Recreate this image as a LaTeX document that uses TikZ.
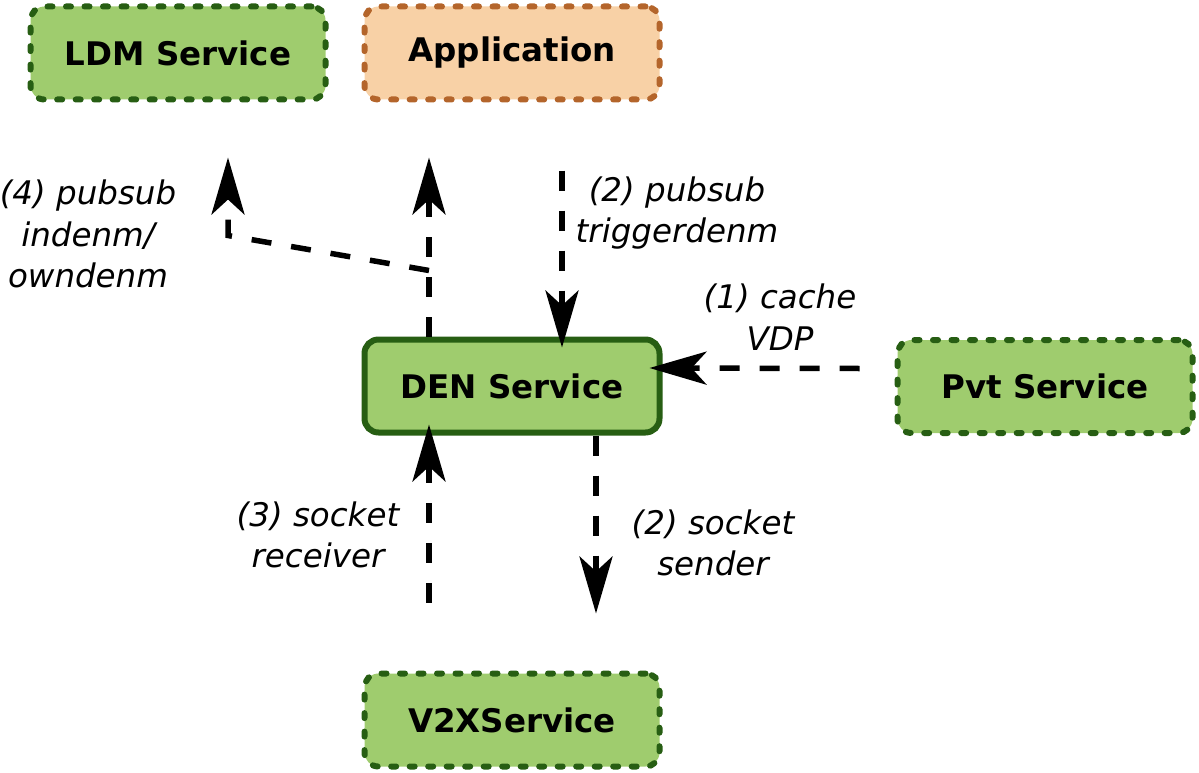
\documentclass[tikz,border=0pt]{standalone}
\usepackage{fontspec}
\setmainfont{DejaVu Sans}
\usetikzlibrary{arrows.meta,positioning,calc}
\usepackage{xcolor}

\definecolor{svcfill}{HTML}{9FCC6E}
\definecolor{svcedge}{HTML}{275E13}
\definecolor{appfill}{HTML}{F8D1A6}
\definecolor{appedge}{HTML}{B4652B}
\newcommand{\diagfont}{\fontsize{32.5}{41.5}\selectfont}

\begin{document}
\begin{tikzpicture}[x=1pt,y=-1pt,
  box/.style={rounded corners=14pt,line width=6pt,minimum width=295pt,minimum height=93pt,font=\diagfont\bfseries},
  dotbox/.style={box,dash pattern=on 5pt off 13.5pt,line cap=round},
  flow/.style={line width=5.5pt,dash pattern=on 20pt off 20pt,-{Stealth[length=57pt,width=33pt,inset=15pt]}},
  lbl/.style={font=\diagfont\itshape,align=center}]
  \useasboundingbox (0,0) rectangle (1199,773);
  % services
  \node[dotbox,draw=svcedge,fill=svcfill] (ldm) at (178,53) {LDM Service};
  \node[dotbox,draw=appedge,fill=appfill] (app) at (512,53) {Application};
  \node[box,draw=svcedge,fill=svcfill] (den) at (512,386) {DEN Service};
  \node[dotbox,draw=svcedge,fill=svcfill] (pvt) at (1045,386.5) {Pvt Service};
  \node[dotbox,draw=svcedge,fill=svcfill] (v2x) at (512,720) {V2XService};
  % flows
  \draw[flow] ($(den.north)+(-83,0)$) -- ($(app.south)+(-83,55)$);
  \draw[flow] ($(den.north)+(-83,-66)$) -- ($(ldm.south)+(50,133)$) -- ($(ldm.south)+(50,55)$);
  \draw[flow] ($(app.south)+(50,68)$) -- ($(den.north)+(50,11)$);
  \draw[flow] ($(pvt.west)+(-35,-18)$) -- ($(den.east)+(-13,-18)$);
  \draw[flow] ($(v2x.north)+(-83,-68)$) -- ($(den.south)+(-83,-11)$);
  \draw[flow] ($(den.south)+(84,0)$) -- ($(v2x.north)+(84,-57)$);
  % labels
  \node[lbl] (l4) at (88,234) {(4) pubsub\\indenm/\\owndenm};
  \node[lbl] (l2a) at (677,213) {(2) pubsub\\triggerdenm};
  \node[lbl] (l1) at (780,317) {(1) cache\\VDP};
  \node[lbl] (l3) at (318,535) {(3) socket\\receiver};
  \node[lbl] (l2b) at (713,543) {(2) socket\\sender};
\end{tikzpicture}
\end{document}
